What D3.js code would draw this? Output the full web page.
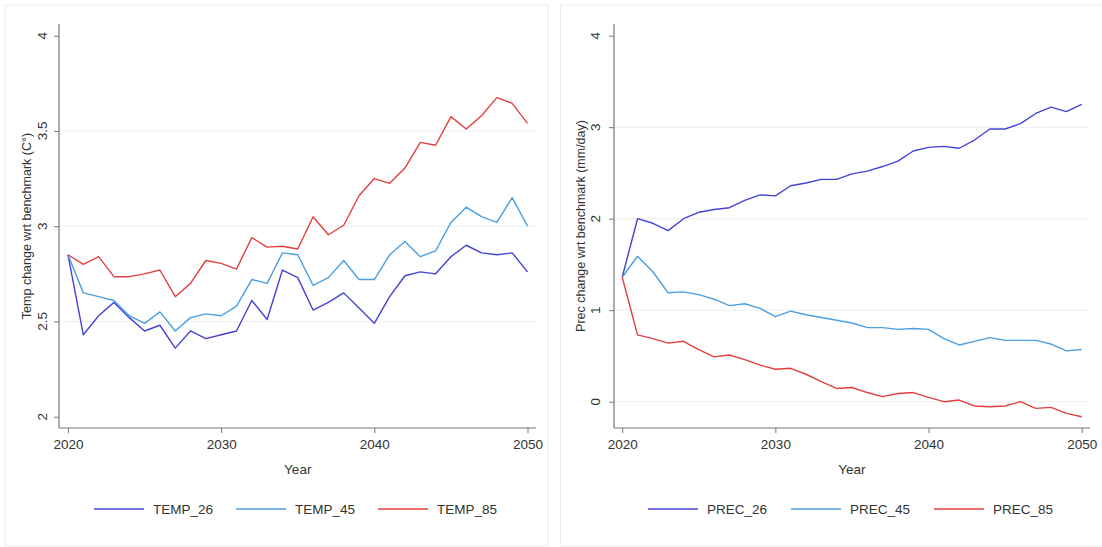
<!DOCTYPE html>
<html lang="en">
<head>
    <meta charset="UTF-8">
    <script src="https://d3js.org/d3.v7.min.js"></script>
    <style>
        body { margin: 0; background: #fff; }
        svg { font-family: "Liberation Sans", Arial, sans-serif; }
    </style>
</head>
<body>
    <svg width="1102" height="547"></svg>
    <script>
        // years 2020..2050
        var years = d3.range(2020, 2051);

        var temp26 = [2.85, 2.43, 2.53, 2.60, 2.52, 2.45, 2.48, 2.36, 2.45, 2.41, 2.43, 2.45, 2.61, 2.51, 2.77, 2.73,
            2.56, 2.60, 2.65, 2.57, 2.49, 2.63, 2.74, 2.76, 2.75, 2.84, 2.90, 2.86, 2.85, 2.86, 2.76];
        var temp45 = [2.85, 2.65, 2.63, 2.61, 2.53, 2.49, 2.55, 2.45, 2.52, 2.54, 2.53, 2.58, 2.72, 2.70, 2.86, 2.85,
            2.69, 2.73, 2.82, 2.72, 2.72, 2.85, 2.92, 2.84, 2.87, 3.02, 3.10, 3.05, 3.02, 3.15, 3.00];
        var temp85 = [2.85, 2.80, 2.84, 2.735, 2.735, 2.75, 2.77, 2.63, 2.70, 2.82, 2.805, 2.775, 2.94, 2.89, 2.895, 2.88,
            3.05, 2.955, 3.005, 3.16, 3.25, 3.225, 3.305, 3.44, 3.425, 3.575, 3.51, 3.58, 3.675, 3.645, 3.54];

        var prec26 = [1.36, 2.00, 1.95, 1.87, 2.00, 2.07, 2.10, 2.12, 2.20, 2.26, 2.25, 2.36, 2.39, 2.43, 2.43, 2.49,
            2.52, 2.57, 2.63, 2.74, 2.78, 2.79, 2.77, 2.86, 2.98, 2.98, 3.04, 3.15, 3.22, 3.17, 3.25];
        var prec45 = [1.36, 1.59, 1.42, 1.19, 1.20, 1.17, 1.12, 1.05, 1.07, 1.02, 0.93, 0.99, 0.95, 0.92, 0.89, 0.86,
            0.81, 0.81, 0.79, 0.80, 0.79, 0.69, 0.62, 0.66, 0.70, 0.67, 0.67, 0.67, 0.63, 0.555, 0.57];
        var prec85 = [1.36, 0.73, 0.69, 0.64, 0.66, 0.57, 0.49, 0.51, 0.46, 0.40, 0.355, 0.365, 0.30, 0.22, 0.145, 0.155,
            0.10, 0.055, 0.09, 0.10, 0.047, 0.0, 0.018, -0.047, -0.055, -0.047, 0.0, -0.073, -0.062, -0.128, -0.164];

        var xTicks = [2020, 2030, 2040, 2050];
        var tempTicks = [2, 2.5, 3, 3.5, 4];
        var precTicks = [0, 1, 2, 3, 4];
        var tempNames = ["TEMP_26", "TEMP_45", "TEMP_85"];
        var precNames = ["PREC_26", "PREC_45", "PREC_85"];
        var colors = ["#4343d6", "#4b9fe2", "#e2403f"];

        var svg = d3.select("svg");

        function drawPanel(p) {
            var g = svg.append("g");

            g.append("rect")
                .attr("x", p.box[0]).attr("y", p.box[1])
                .attr("width", p.box[2]).attr("height", p.box[3])
                .attr("fill", "#fff").attr("stroke", "#ececec");

            var x = d3.scaleLinear().domain([2020, 2050]).range(p.xr);
            var y = d3.scaleLinear().domain(p.yd).range(p.yr);

            // grid
            g.selectAll(".grid").data(p.grid).enter().append("line")
                .attr("x1", p.axX).attr("x2", p.axRight)
                .attr("y1", function(d) { return y(d); })
                .attr("y2", function(d) { return y(d); })
                .attr("stroke", "#eeeeee").attr("stroke-width", 1);

            // y axis
            var ya = g.append("g")
                .attr("transform", "translate(" + p.axX + ",0)")
                .call(d3.axisLeft(y).tickValues(p.yTicks).tickSize(5).tickPadding(0)
                    .tickFormat(function(d) { return d3.format("")(d); }));
            ya.select(".domain").remove();
            ya.selectAll("line").attr("stroke", "#777");
            ya.selectAll("text").remove();
            g.selectAll(".ylab").data(p.yTicks).enter().append("text")
                .attr("transform", function(d) { return "translate(" + p.yLabX + "," + y(d) + ") rotate(-90)"; })
                .attr("text-anchor", "middle")
                .attr("font-size", "13.5px").attr("fill", "#333")
                .text(function(d) { return d; });
            g.append("line")
                .attr("x1", p.axX).attr("x2", p.axX)
                .attr("y1", 24).attr("y2", p.axY)
                .attr("stroke", "#777").attr("stroke-width", 1.2);

            // x axis
            var xa = g.append("g")
                .attr("transform", "translate(0," + p.axY + ")")
                .call(d3.axisBottom(x).tickValues(xTicks).tickSize(5).tickPadding(6)
                    .tickFormat(d3.format("d")));
            xa.select(".domain").remove();
            xa.selectAll("line").attr("stroke", "#777");
            xa.selectAll("text").attr("font-size", "13.5px").attr("fill", "#333")
                .attr("font-family", "Liberation Sans, Arial, sans-serif");
            g.append("line")
                .attr("x1", p.axX).attr("x2", p.axRight)
                .attr("y1", p.axY).attr("y2", p.axY)
                .attr("stroke", "#777").attr("stroke-width", 1.2);

            // titles
            g.append("text")
                .attr("x", (x(2020) + x(2050)) / 2).attr("y", 474)
                .attr("text-anchor", "middle").attr("font-size", "13.5px").attr("fill", "#333")
                .text("Year");
            g.append("text")
                .attr("transform", "translate(" + p.titleX + "," + ((24 + p.axY) / 2) + ") rotate(-90)")
                .attr("text-anchor", "middle").attr("font-size", "12.5px").attr("fill", "#333")
                .text(p.ytitle);

            // lines
            var line = d3.line()
                .x(function(d, i) { return x(years[i]); })
                .y(function(d) { return y(d); });
            p.series.forEach(function(s, i) {
                g.append("path")
                    .datum(s)
                    .attr("d", line)
                    .attr("fill", "none")
                    .attr("stroke", colors[i])
                    .attr("stroke-width", 1.4)
                    .attr("stroke-linejoin", "round");
            });

            // legend
            p.names.forEach(function(n, i) {
                var lx = p.legX[i];
                g.append("line")
                    .attr("x1", lx).attr("x2", lx + 50)
                    .attr("y1", 509).attr("y2", 509)
                    .attr("stroke", colors[i]).attr("stroke-width", 1.4);
                g.append("text")
                    .attr("x", lx + 59).attr("y", 514)
                    .attr("font-size", "13.5px").attr("fill", "#333")
                    .text(n);
            });
        }

        drawPanel({
            box: [5, 5, 543, 541],
            xr: [68, 527.5], yd: [2, 4], yr: [416.7, 35.7],
            axX: 59, axY: 428, axRight: 536,
            yTicks: tempTicks, grid: [2.5, 3, 3.5],
            yLabX: 47, titleX: 31,
            ytitle: "Temp change wrt benchmark (C°)",
            series: [temp26, temp45, temp85], names: tempNames,
            legX: [94, 236, 378]
        });

        drawPanel({
            box: [560.5, 5, 545, 541],
            xr: [622.2, 1081.7], yd: [0, 4], yr: [401.7, 35.7],
            axX: 614, axY: 428, axRight: 1090,
            yTicks: precTicks, grid: [0, 1, 2, 3],
            yLabX: 600, titleX: 585,
            ytitle: "Prec change wrt benchmark (mm/day)",
            series: [prec26, prec45, prec85], names: precNames,
            legX: [648, 791, 934]
        });
    </script>
</body>
</html>
